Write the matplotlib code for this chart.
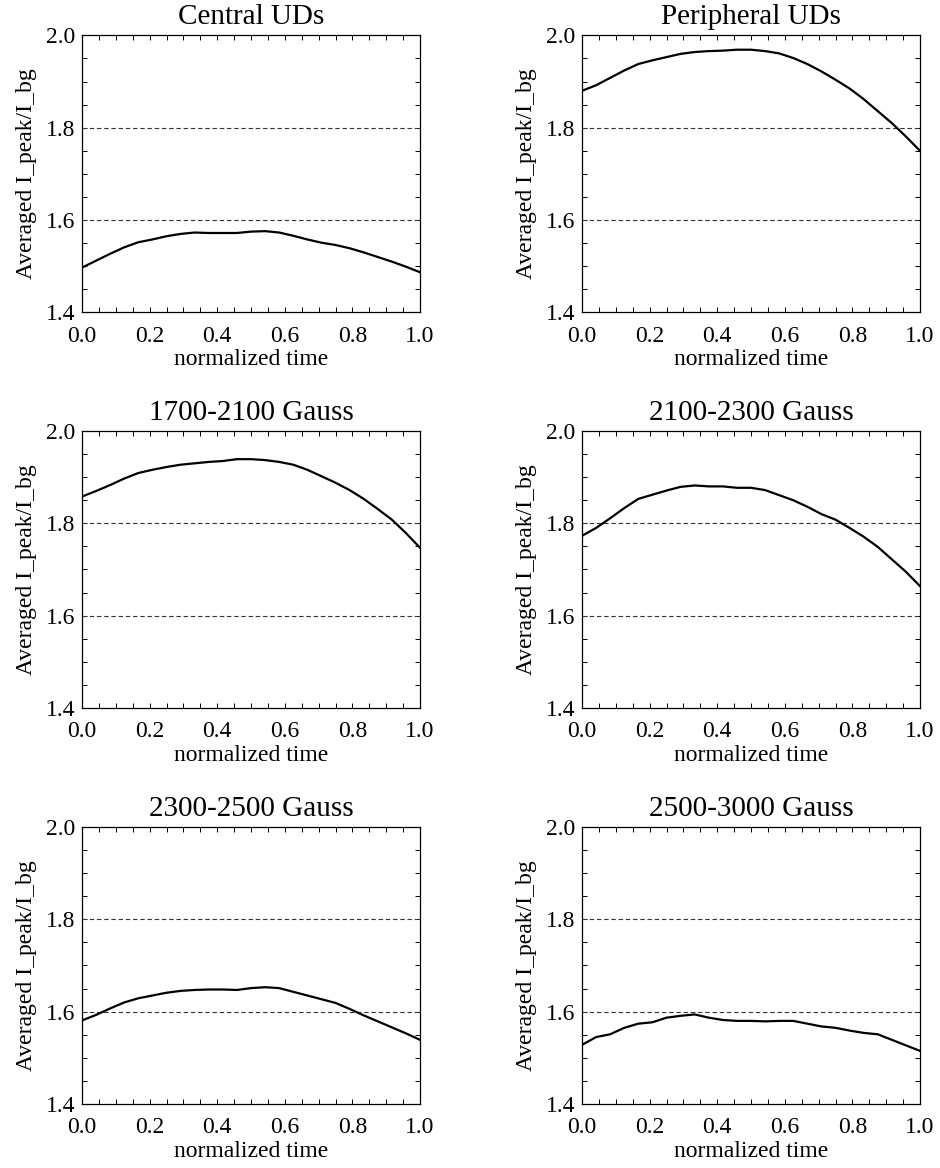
import matplotlib
matplotlib.use("Agg")
import matplotlib.pyplot as plt
import numpy as np
from matplotlib.ticker import MultipleLocator, FormatStrFormatter

plt.rcParams["font.family"] = ["Liberation Serif", "DejaVu Serif"]

# normalized time, 25 samples (i/24)
norm_time = np.linspace(0.0, 1.0, 25)

titles = ["Central UDs", "Peripheral UDs",
          "1700-2100 Gauss", "2100-2300 Gauss",
          "2300-2500 Gauss", "2500-3000 Gauss"]

central = [1.497, 1.512, 1.527, 1.541, 1.552, 1.558, 1.565, 1.570, 1.573,
           1.572, 1.572, 1.572, 1.575, 1.576, 1.573, 1.566, 1.558, 1.551,
           1.546, 1.539, 1.530, 1.520, 1.510, 1.499, 1.487]
peripheral = [1.880, 1.892, 1.908, 1.924, 1.938, 1.946, 1.953, 1.960, 1.964,
              1.966, 1.967, 1.969, 1.969, 1.966, 1.961, 1.951, 1.938, 1.922,
              1.904, 1.885, 1.862, 1.836, 1.810, 1.781, 1.750]
g1700_2100 = [1.858, 1.870, 1.883, 1.897, 1.909, 1.916, 1.922, 1.927, 1.930,
              1.933, 1.935, 1.939, 1.939, 1.937, 1.933, 1.927, 1.916, 1.902,
              1.888, 1.872, 1.853, 1.831, 1.808, 1.779, 1.747]
g2100_2300 = [1.773, 1.790, 1.811, 1.833, 1.853, 1.862, 1.871, 1.879, 1.882,
              1.880, 1.880, 1.877, 1.877, 1.872, 1.861, 1.850, 1.836, 1.820,
              1.808, 1.790, 1.771, 1.749, 1.722, 1.695, 1.664]
g2300_2500 = [1.581, 1.593, 1.607, 1.620, 1.629, 1.635, 1.641, 1.645, 1.647,
              1.648, 1.648, 1.647, 1.651, 1.653, 1.651, 1.643, 1.635, 1.627,
              1.619, 1.606, 1.592, 1.579, 1.566, 1.553, 1.539]
g2500_3000 = [1.528, 1.545, 1.551, 1.565, 1.574, 1.577, 1.587, 1.591, 1.594,
              1.587, 1.582, 1.580, 1.580, 1.579, 1.580, 1.580, 1.574, 1.568,
              1.565, 1.559, 1.554, 1.551, 1.539, 1.527, 1.515]

ref_levels = [1.6, 1.8]

series = [central, peripheral, g1700_2100, g2100_2300, g2300_2500, g2500_3000]

W, H = 940, 1168
fig = plt.figure(figsize=(W / 100, H / 100), dpi=100)

lefts = [82, 582]
tops = [35.4, 431, 827]
aw, ah = 338, 277

for k, (title, y) in enumerate(zip(titles, series)):
    row, col = divmod(k, 2)
    x0 = lefts[col] / W
    y0 = 1 - (tops[row] + ah) / H
    ax = fig.add_axes([x0, y0, aw / W, ah / H])

    for lev in ref_levels:
        ax.axhline(lev, color="#333333", lw=0.8, dashes=(4, 2.5))
    ax.plot(norm_time, y, color="black", lw=1.6)

    ax.set_xlim(0, 1)
    ax.set_ylim(1.4, 2.0)
    ax.xaxis.set_major_locator(MultipleLocator(0.2))
    ax.xaxis.set_minor_locator(MultipleLocator(0.05))
    ax.yaxis.set_major_locator(MultipleLocator(0.2))
    ax.yaxis.set_minor_locator(MultipleLocator(0.05))
    ax.xaxis.set_major_formatter(FormatStrFormatter("%.1f"))
    ax.yaxis.set_major_formatter(FormatStrFormatter("%.1f"))
    ax.tick_params(which="both", direction="in", top=True, right=True,
                   length=3.3, width=0.7, labelsize=17)
    ax.tick_params(axis="x", which="major", pad=9.5)
    ax.tick_params(axis="y", which="major", pad=5)
    for sp in ax.spines.values():
        sp.set_linewidth(0.9)

    ax.set_title(title, fontsize=21, pad=8)
    ax.set_xlabel("normalized time", fontsize=17, labelpad=2)
    ax.set_ylabel("Averaged I_peak/I_bg", fontsize=17, labelpad=6)

fig.savefig("out.png", dpi=100)
